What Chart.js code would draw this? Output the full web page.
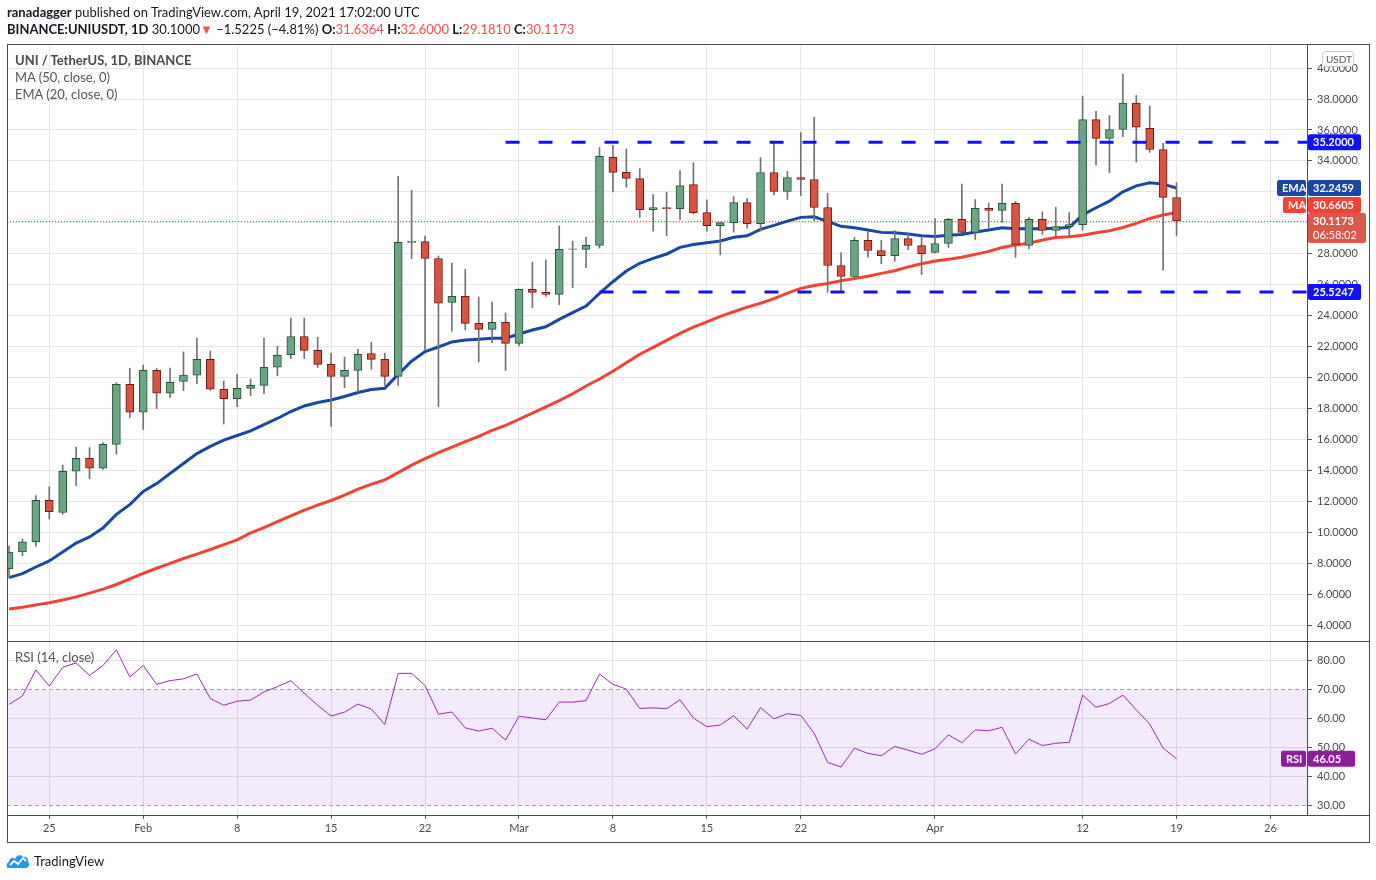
<!DOCTYPE html>
<html>
<head>
<meta charset="utf-8">
<script src="https://cdn.jsdelivr.net/npm/chart.js@4.4.1/dist/chart.umd.min.js"></script>
<style>
html, body { margin: 0; padding: 0; background: #fff; }
#wrap { position: relative; width: 1376px; height: 880px; overflow: hidden; font-family: Lato, "Noto Sans", sans-serif; }
#myChart { position: absolute; left: 0; top: 0; }
.t { position: absolute; white-space: nowrap; line-height: 16px; }
.red { color: #ef5350; }
</style>
</head>
<body>
<div id="wrap">
  <canvas id="myChart" width="1376" height="880"></canvas>
  <div class="t" style="left:7px;top:4px;font-size:13px;color:#131722"><b>ranadagger</b> published on TradingView.com, April 19, 2021 17:02:00 UTC</div>
  <div class="t" style="left:7px;top:21px;font-size:13px;color:#131722"><b>BINANCE:UNIUSDT, 1D</b> 30.1000<span class="red">▼</span> −1.5225 (−4.81%) <b>O:</b><span class="red">31.6364</span> <b>H:</b><span class="red">32.6000</span> <b>L:</b><span class="red">29.1810</span> <b>C:</b><span class="red">30.1173</span></div>
  <div class="t" style="left:15px;top:52px;font-size:13px;color:#4a4a4a;font-weight:bold">UNI / TetherUS, 1D, BINANCE</div>
  <div class="t" style="left:15px;top:69px;font-size:13px;color:#555">MA (50, close, 0)</div>
  <div class="t" style="left:15px;top:86px;font-size:13px;color:#555">EMA (20, close, 0)</div>
  <div class="t" style="left:15px;top:649px;font-size:13px;color:#555">RSI (14, close)</div>
  <svg style="position:absolute;left:6px;top:853px" width="24" height="16" viewBox="0 0 24 16">
    <path d="M2 15 C0 15 0 10 3 9 C3 5 7 4 9 6 C10 2 15 1 17 4 C20 3 23 6 22 9 C24 11 23 15 20 15 Z" fill="#2196f3"/>
    <polyline points="4,12 8,8 12,11 17,5 20,8" fill="none" stroke="#fff" stroke-width="1.8"/>
  </svg>
  <div class="t" style="left:34px;top:853px;font-size:13px;color:#131722">TradingView</div>
</div>
<script>
// day 0 = 2021-01-22, one candle per day up to 2021-04-19
const opens = [7.62, 8.72, 9.37, 12.06, 11.27, 13.94, 14.78, 14.13, 15.68, 19.56,
  17.75, 20.47, 18.98, 19.74, 20.15, 21.18, 19.24, 18.63, 19.30, 19.49,
  20.66, 21.48, 22.65, 21.75, 20.85, 20.07, 20.46, 21.55, 21.17, 20.07,
  28.73, 28.78, 27.69, 24.85, 25.24, 23.50, 23.11, 23.56, 22.20, 25.70,
  25.50, 25.37, 28.28, 28.28, 28.54, 34.23, 33.26, 32.85, 30.85, 30.98,
  30.92, 32.47, 30.66, 29.82, 30.01, 31.30, 29.95, 33.25, 32.02, 32.93,
  32.80, 30.99, 27.24, 26.53, 28.86, 28.21, 27.88, 28.98, 28.53, 28.08,
  28.66, 30.22, 29.38, 30.93, 30.80, 31.25, 28.53, 30.22, 29.51, 29.75,
  29.88, 36.67, 35.46, 36.03, 37.73, 36.10, 34.74, 31.6364]
const highs = [9.10, 9.56, 12.37, 12.94, 14.34, 15.50, 15.47, 15.80, 19.66, 20.60,
  20.80, 20.60, 20.60, 21.65, 22.55, 21.71, 19.77, 20.22, 19.90, 22.55,
  22.03, 23.84, 23.84, 22.60, 21.58, 21.32, 21.84, 22.29, 21.58, 33.00,
  32.10, 29.14, 27.85, 27.40, 27.00, 25.20, 24.88, 24.17, 25.72, 27.46,
  27.60, 29.80, 28.82, 29.08, 34.87, 35.00, 34.77, 33.50, 31.83, 31.99,
  33.38, 33.88, 31.49, 30.05, 31.69, 31.56, 34.22, 35.13, 33.32, 35.83,
  36.84, 31.90, 28.07, 29.06, 29.42, 28.86, 29.50, 29.30, 29.04, 30.27,
  30.29, 32.50, 31.50, 31.28, 32.50, 31.38, 30.35, 30.70, 31.00, 30.66,
  38.19, 37.20, 36.93, 39.62, 38.23, 37.53, 35.13, 32.60]
const lows = [7.05, 8.48, 9.10, 10.85, 11.15, 13.00, 13.46, 14.06, 15.05, 17.40,
  16.64, 17.99, 18.70, 19.15, 19.60, 19.16, 16.99, 18.11, 18.83, 18.96,
  20.11, 21.22, 21.22, 20.65, 16.83, 19.34, 19.09, 20.53, 19.49, 19.49,
  27.68, 21.75, 18.10, 23.00, 23.07, 21.00, 22.25, 20.45, 22.04, 24.51,
  25.25, 24.70, 25.80, 27.10, 28.36, 32.00, 32.30, 30.34, 29.46, 29.16,
  30.20, 30.57, 29.46, 27.92, 29.40, 29.66, 29.46, 31.80, 31.51, 31.76,
  30.14, 25.50, 25.53, 26.50, 27.78, 27.35, 27.50, 28.27, 26.65, 28.05,
  28.40, 29.35, 28.92, 29.64, 30.02, 27.76, 28.31, 29.24, 29.14, 29.14,
  29.53, 33.74, 33.23, 35.57, 33.93, 34.55, 26.94, 29.181]
const closes = [8.72, 9.37, 12.06, 11.33, 13.94, 14.78, 14.13, 15.68, 19.56, 17.75,
  20.47, 18.98, 19.69, 20.15, 21.18, 19.24, 18.63, 19.30, 19.49, 20.66,
  21.44, 22.65, 21.75, 20.85, 20.07, 20.46, 21.49, 21.17, 20.07, 28.73,
  28.80, 27.69, 24.80, 25.24, 23.50, 23.11, 23.56, 22.20, 25.70, 25.50,
  25.37, 28.28, 28.31, 28.54, 34.30, 33.26, 32.87, 30.85, 30.98, 30.92,
  32.41, 30.66, 29.82, 30.01, 31.30, 29.95, 33.25, 32.02, 32.93, 32.80,
  30.99, 27.24, 26.53, 28.86, 28.21, 27.88, 28.98, 28.53, 28.01, 28.66,
  30.22, 29.38, 30.93, 30.80, 31.25, 28.60, 30.22, 29.51, 29.75, 29.88,
  36.67, 35.46, 36.03, 37.73, 36.18, 34.74, 31.64, 30.1173]
const ema20 = [7.06, 7.32, 7.75, 8.14, 8.72, 9.30, 9.69, 10.27, 11.15, 11.78,
  12.63, 13.14, 13.79, 14.44, 15.08, 15.55, 15.95, 16.25, 16.55, 16.95,
  17.35, 17.80, 18.16, 18.38, 18.55, 18.77, 19.03, 19.22, 19.30, 20.20,
  21.05, 21.67, 21.97, 22.30, 22.42, 22.47, 22.53, 22.53, 22.81, 23.07,
  23.28, 23.76, 24.19, 24.62, 25.44, 26.19, 26.88, 27.38, 27.70, 27.98,
  28.41, 28.60, 28.71, 28.82, 29.06, 29.16, 29.58, 29.83, 30.11, 30.35,
  30.39, 30.09, 29.77, 29.68, 29.53, 29.38, 29.36, 29.27, 29.16, 29.12,
  29.20, 29.25, 29.40, 29.53, 29.68, 29.62, 29.62, 29.62, 29.65, 29.70,
  30.50, 30.97, 31.40, 32.00, 32.39, 32.59, 32.50, 32.2459]
const ma50 = [5.03, 5.15, 5.30, 5.44, 5.62, 5.82, 6.06, 6.32, 6.62, 6.98,
  7.34, 7.67, 7.98, 8.30, 8.58, 8.88, 9.20, 9.50, 9.96, 10.30,
  10.68, 11.05, 11.42, 11.75, 12.05, 12.40, 12.78, 13.10, 13.38, 13.85,
  14.33, 14.75, 15.15, 15.50, 15.85, 16.20, 16.58, 16.90, 17.30, 17.70,
  18.10, 18.50, 18.95, 19.45, 19.90, 20.40, 20.95, 21.50, 21.95, 22.40,
  22.85, 23.25, 23.60, 23.95, 24.25, 24.55, 24.80, 25.10, 25.45, 25.76,
  25.95, 26.08, 26.25, 26.40, 26.55, 26.73, 26.90, 27.15, 27.35, 27.53,
  27.65, 27.77, 27.96, 28.15, 28.40, 28.56, 28.68, 28.89, 29.05, 29.10,
  29.20, 29.36, 29.49, 29.70, 29.96, 30.28, 30.50, 30.6605]
const rsi14 = [64.8, 67.7, 76.7, 71.1, 77.6, 79.1, 74.8, 78.2, 83.6, 74.3,
  78.2, 71.7, 73.0, 73.6, 75.3, 66.8, 64.5, 65.9, 66.3, 69.1,
  70.9, 73.0, 68.6, 64.5, 60.8, 62.1, 64.9, 63.2, 57.9, 75.5,
  75.5, 71.3, 61.4, 62.2, 56.7, 55.6, 56.6, 52.5, 60.7, 60.1,
  59.5, 65.6, 65.6, 66.1, 75.3, 71.7, 70.1, 63.4, 63.6, 63.3,
  66.4, 60.1, 57.1, 57.7, 60.9, 56.3, 63.7, 59.8, 61.6, 61.0,
  54.8, 44.8, 43.2, 49.7, 47.9, 47.1, 50.3, 49.0, 47.6, 49.5,
  54.3, 51.6, 56.0, 55.7, 56.9, 47.7, 52.8, 50.6, 51.4, 51.7,
  68.0, 63.8, 65.1, 68.0, 62.9, 58.0, 49.7, 46.05]

// horizontal levels drawn by the author
const levelPrices = [35.2, 25.5247]
const levelStartDays = [37, 44]

const xTickDays = [3, 10, 17, 24, 31, 38, 45, 52, 59, 69, 80, 87, 94]
const xTickLabels = ['25', 'Feb', '8', '15', '22', 'Mar', '8', '15', '22', 'Apr', '12', '19', '26']
const priceTicks = [4, 6, 8, 10, 12, 14, 16, 18, 20, 22, 24, 26, 28, 30, 32, 34, 36, 38, 40]
const rsiTicks = [30, 40, 50, 60, 70, 80]

const upColor = '#6ba583'
const downColor = '#d75442'
const upBorder = '#225437'
const downBorder = '#6b1a14'
const wickColor = '#737375'
const emaColor = '#1848a0'
const maColor = '#f44336'
const rsiColor = '#9c27b0'
const levelColor = '#1010ff'

const X_MIN = -0.15
const X_MAX = 96.72

const isUp = i => closes[i] >= opens[i]

const bodies = opens.map((o, i) => ({ x: i, y: [o, closes[i]] }))
const wicks = lows.map((l, i) => ({ x: i, y: [l, highs[i]] }))
const line = arr => arr.map((v, i) => ({ x: i, y: v }))

const levelSets = levelPrices.map((p, k) => ({
    type: 'line',
    data: [{ x: levelStartDays[k], y: p }, { x: X_MAX + 1, y: p }],
    borderColor: levelColor,
    borderWidth: 3,
    borderDash: [14, 19],
    pointRadius: 0,
    yAxisID: 'y',
    order: -1
}))

function tag(ctx, x, yc, w, h, fill, text, color) {
    ctx.fillStyle = fill
    ctx.beginPath()
    ctx.roundRect(x, yc - h / 2, w, h, 2)
    ctx.fill()
    ctx.fillStyle = color
    ctx.textBaseline = 'middle'
    ctx.textAlign = 'left'
    ctx.fillText(text, x + 5, yc + 0.5)
}

const panes = {
    id: 'panes',
    beforeDatasetsDraw(chart) {
        const { ctx, chartArea: a, scales } = chart
        const r = scales.rsi, y = scales.y
        ctx.save()
        const y70 = r.getPixelForValue(70), y30 = r.getPixelForValue(30)
        ctx.fillStyle = 'rgba(150, 60, 230, 0.11)'
        ctx.fillRect(a.left, y70, a.right - a.left, y30 - y70)
        ctx.strokeStyle = '#a0a0a0'
        ctx.lineWidth = 1
        ctx.setLineDash([4, 3])
        for (const p of [y70, y30]) {
            ctx.beginPath()
            ctx.moveTo(a.left, Math.round(p) + 0.5)
            ctx.lineTo(a.right, Math.round(p) + 0.5)
            ctx.stroke()
        }
        // last price dotted line
        const yp = Math.round(y.getPixelForValue(closes[closes.length - 1])) + 0.5
        ctx.strokeStyle = downColor
        ctx.setLineDash([1, 2])
        ctx.beginPath()
        ctx.moveTo(a.left, yp)
        ctx.lineTo(a.right, yp)
        ctx.stroke()
        ctx.restore()
    },
    afterDraw(chart) {
        const { ctx, chartArea: a, scales } = chart
        const y = scales.y, r = scales.rsi
        ctx.save()
        ctx.strokeStyle = '#4a4a4a'
        ctx.lineWidth = 1
        ctx.strokeRect(7.5, 44.5, 1362, 798)
        const sep = Math.round(y.bottom) + 0.5
        ctx.beginPath()
        ctx.moveTo(7, sep); ctx.lineTo(1370, sep)
        ctx.moveTo(7, a.bottom + 0.5); ctx.lineTo(1370, a.bottom + 0.5)
        ctx.stroke()

        const lx = a.right + 1
        // currency box
        ctx.fillStyle = '#fff'
        ctx.strokeStyle = '#c8c8c8'
        ctx.beginPath()
        ctx.roundRect(lx + 14.5, 51.5, 31, 15, 3)
        ctx.fill(); ctx.stroke()
        ctx.fillStyle = '#555'
        ctx.font = '10px Lato'
        ctx.textBaseline = 'middle'
        ctx.fillText('USDT', lx + 18, 59.5)

        ctx.font = 'bold 11px Lato'
        levelPrices.forEach(p => {
            tag(ctx, lx, y.getPixelForValue(p), 53, 16, levelColor, p.toFixed(4), '#fff')
        })
        const last = closes.length - 1
        const pY = y.getPixelForValue(closes[last])
        const maY = Math.min(y.getPixelForValue(ma50[last]), pY - 16)
        const emaY = Math.min(y.getPixelForValue(ema20[last]), maY - 16)
        // last price, two lines
        ctx.fillStyle = '#d9594a'
        ctx.beginPath()
        ctx.roundRect(lx, pY - 8, 58, 30, 2)
        ctx.fill()
        ctx.fillStyle = '#fff'
        ctx.fillText(closes[last].toFixed(4), lx + 5, pY + 0.5)
        ctx.font = '11px Lato'
        ctx.fillText('06:58:02', lx + 5, pY + 14)
        ctx.font = 'bold 11px Lato'
        tag(ctx, lx, maY, 53, 16, maColor, ma50[last].toFixed(4), '#fff')
        tag(ctx, a.right - 24, maY, 23, 16, maColor, 'MA', '#fff')
        tag(ctx, lx, emaY, 53, 16, emaColor, ema20[last].toFixed(4), '#fff')
        tag(ctx, a.right - 30, emaY, 29, 16, emaColor, 'EMA', '#fff')
        const rY = r.getPixelForValue(rsi14[last])
        tag(ctx, lx, rY, 47, 16, '#8e1d9c', rsi14[last].toFixed(2), '#fff')
        tag(ctx, a.right - 26, rY, 25, 16, '#8e1d9c', 'RSI', '#fff')
        ctx.restore()
    }
}

Chart.defaults.font.family = 'Lato, "Noto Sans", sans-serif'
Chart.defaults.font.size = 11
Chart.defaults.color = '#4a4a4a'

function createChart() {
    const chartie = document.getElementById('myChart')
    new Chart(chartie, {
        type: 'bar',
        data: {
            datasets: [
                ...levelSets,
                {
                    label: 'body',
                    data: bodies,
                    grouped: false,
                    barThickness: 8,
                    backgroundColor: c => isUp(c.dataIndex) ? upColor : downColor,
                    borderColor: c => isUp(c.dataIndex) ? upBorder : downBorder,
                    borderWidth: 1,
                    borderSkipped: false,
                    yAxisID: 'y',
                    order: 0
                },
                {
                    label: 'wick',
                    data: wicks,
                    grouped: false,
                    barThickness: 1,
                    backgroundColor: wickColor,
                    borderWidth: 0,
                    yAxisID: 'y',
                    order: 1
                },
                {
                    type: 'line',
                    label: 'EMA',
                    data: line(ema20),
                    borderColor: emaColor,
                    borderWidth: 3,
                    pointRadius: 0,
                    yAxisID: 'y',
                    order: 2
                },
                {
                    type: 'line',
                    label: 'MA',
                    data: line(ma50),
                    borderColor: maColor,
                    borderWidth: 3,
                    pointRadius: 0,
                    yAxisID: 'y',
                    order: 2
                },
                {
                    type: 'line',
                    label: 'RSI',
                    data: line(rsi14),
                    borderColor: rsiColor,
                    borderWidth: 1,
                    pointRadius: 0,
                    yAxisID: 'rsi',
                    order: 2
                }
            ]
        },
        options: {
            responsive: false,
            animation: false,
            layout: { padding: { left: 7, top: 44, right: 6, bottom: 37 } },
            plugins: { legend: { display: false }, tooltip: { enabled: false } },
            scales: {
                x: {
                    type: 'linear',
                    offset: false,
                    min: X_MIN,
                    max: X_MAX,
                    afterBuildTicks: s => { s.ticks = xTickDays.map(v => ({ value: v })) },
                    afterFit: s => { s.height = 28 },
                    ticks: { autoSkip: false, maxRotation: 0, padding: 3, callback: (v, i) => xTickLabels[i] },
                    grid: { offset: false, color: '#e6e6e6', tickLength: 4, tickColor: '#555' },
                    border: { color: '#4a4a4a' }
                },
                y: {
                    type: 'linear',
                    axis: 'y',
                    position: 'right',
                    stack: 'panes',
                    stackWeight: 597,
                    min: 2.966,
                    max: 41.557,
                    afterBuildTicks: s => { s.ticks = priceTicks.map(v => ({ value: v })) },
                    afterFit: s => { s.width = 63 },
                    ticks: { padding: 5, callback: v => v.toFixed(4) },
                    grid: { color: '#e6e6e6', tickLength: 5, tickColor: '#555' },
                    border: { color: '#4a4a4a' }
                },
                rsi: {
                    type: 'linear',
                    axis: 'y',
                    position: 'right',
                    stack: 'panes',
                    stackWeight: 174,
                    min: 26.66,
                    max: 86.66,
                    afterBuildTicks: s => { s.ticks = rsiTicks.map(v => ({ value: v })) },
                    afterFit: s => { s.width = 63 },
                    ticks: { padding: 5, callback: v => v.toFixed(2) },
                    grid: {
                        color: c => (c.tick && (c.tick.value === 30 || c.tick.value === 70)) ? 'rgba(0,0,0,0)' : '#e2e2e2',
                        tickLength: 5,
                        tickColor: '#555'
                    },
                    border: { color: '#4a4a4a' }
                }
            }
        },
        plugins: [panes]
    })
    console.log('chart created')
}

createChart()
</script>
</body>
</html>
